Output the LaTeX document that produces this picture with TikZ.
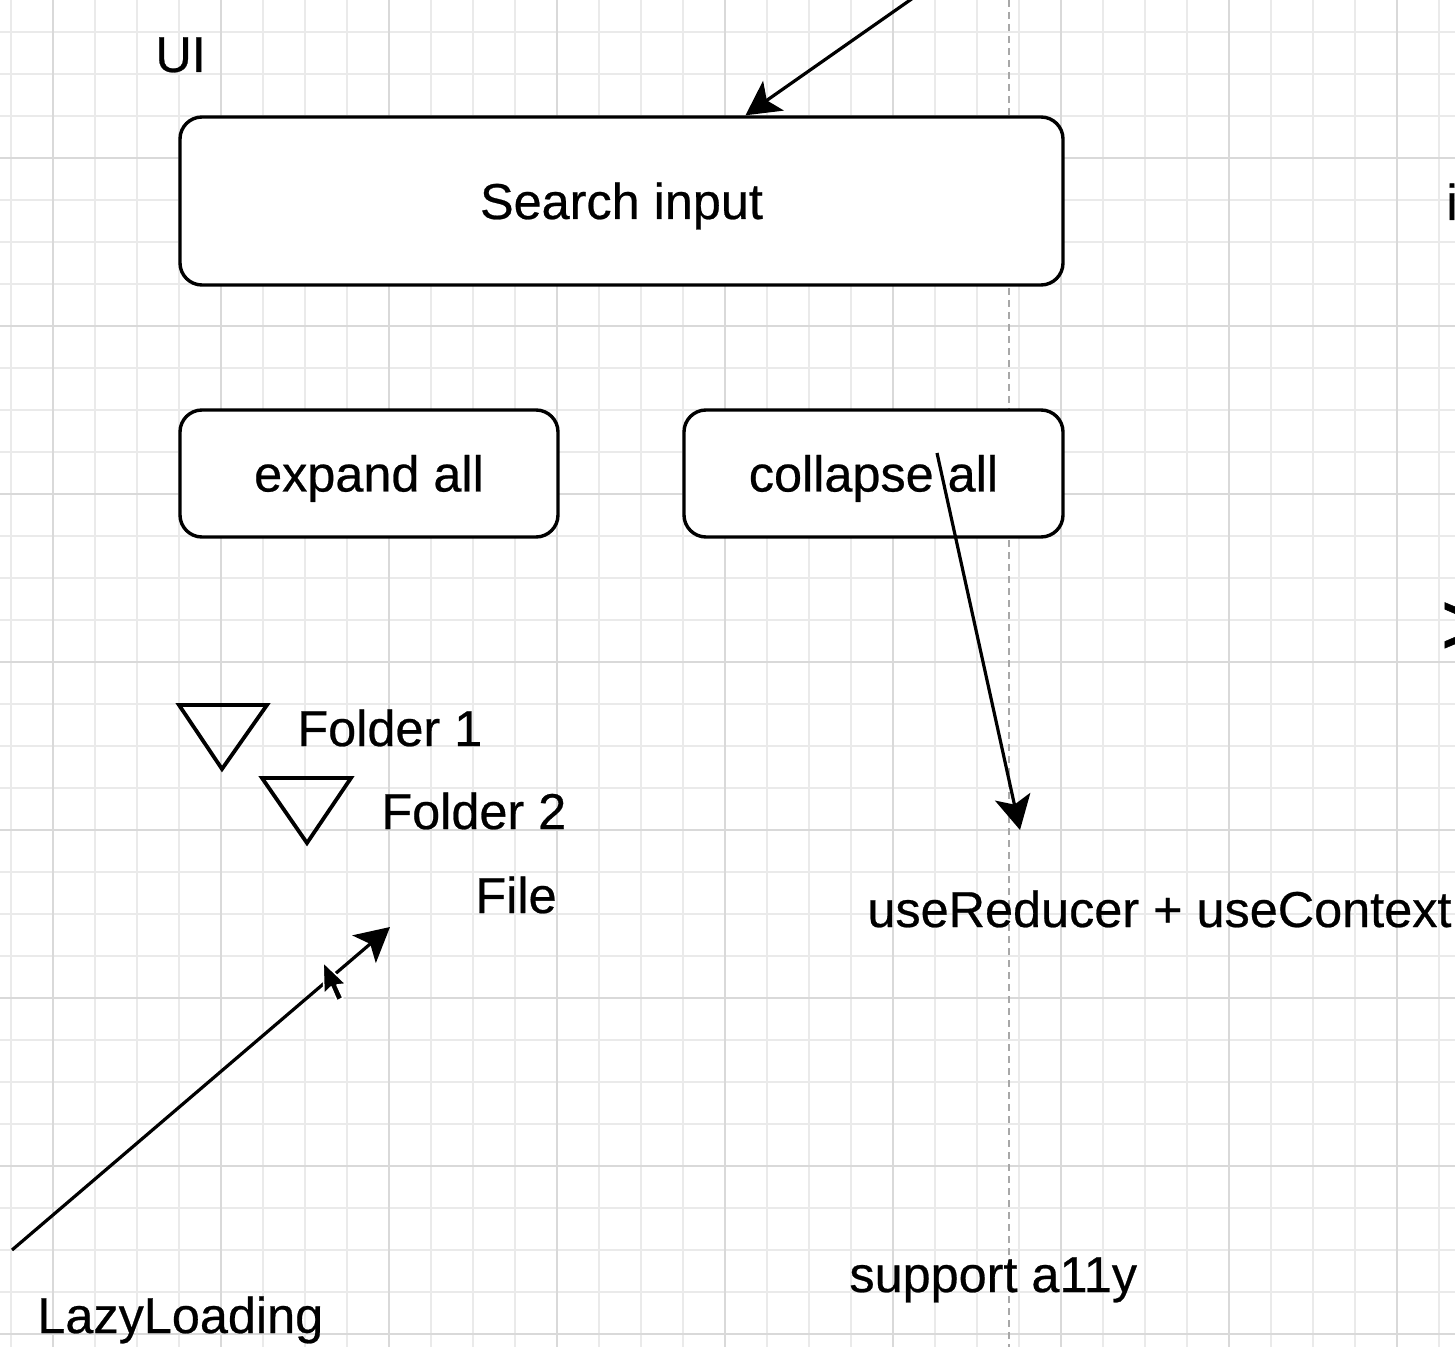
\documentclass[tikz,border=0pt]{standalone}
\usepackage{fontspec}
\setmainfont{Liberation Sans}[FakeBold=0.5]
\usetikzlibrary{arrows.meta,calc}
\definecolor{gridminor}{HTML}{EAEAEA}
\definecolor{gridmajor}{HTML}{D9D9D9}
\definecolor{guide}{HTML}{A8A8A8}
\tikzset{
  box/.style={draw=black, line width=1.7pt, fill=white, rounded corners=11pt,
    font=\fontsize{25.2}{30}\selectfont, text height=18pt, text depth=0pt, inner sep=0pt},
  lbl/.style={font=\fontsize{25.2}{30}\selectfont, inner sep=0pt, anchor=base west},
  conn/.style={draw=black, line width=1.6pt, -{Stealth[length=17pt,width=18pt,inset=4pt]}},
  tri/.style={draw=black, line width=1.9pt, line join=miter},
}
\begin{document}
\begin{tikzpicture}[x=0.5pt,y=-0.5pt]
\fill[white] (0,0) rectangle (1455,1347);
\useasboundingbox (0,0) rectangle (1455,1347);
\begin{scope}
\clip (0,0) rectangle (1455,1347);
% grid
\foreach \x in {11,53,...,1460} \draw[gridminor, line width=0.6pt] (\x,0) -- (\x,1347);
\foreach \y in {32,74,...,1350} \draw[gridminor, line width=0.6pt] (0,\y) -- (1455,\y);
\foreach \x in {53,221,...,1460} \draw[gridmajor, line width=0.6pt] (\x,0) -- (\x,1347);
\foreach \y in {158,326,...,1350} \draw[gridmajor, line width=0.6pt] (0,\y) -- (1455,\y);
% guide line
\draw[guide, line width=0.7pt, dash pattern=on 3.5pt off 2.5pt] (1009,0) -- (1009,1347);

% boxes
\node[box, minimum width=441.5pt, minimum height=84pt] (search) at (621.5,201) {Search input};
\node[box, minimum width=189pt, minimum height=63.5pt] (expand) at (369,473.5) {expand all};
\node[box, minimum width=189.5pt, minimum height=63.5pt] (collapse) at (873.5,473.5) {collapse all};

% labels
\node[lbl] (ui) at (155,72) {UI};
\node[lbl] (f1) at (297,746) {Folder 1};
\node[lbl] (f2) at (381,829) {Folder 2};
\node[lbl] (file) at (475,913) {File};
\node[lbl] (reducer) at (867,927) {useReducer + useContext};
\node[lbl] (a11y) at (849,1292) {support a11y};
\node[lbl] (lazy) at (37,1333) {LazyLoading};
\node[lbl] (cut1) at (1446,220) {i};
\node[lbl, font=\fontsize{45}{50}\selectfont] (cut2) at (1440,655) {>};

% triangles
\draw[tri] (179,705) -- (267,705) -- (222,769) -- cycle;
\draw[tri] (262,778) -- (351,778) -- (307,843) -- cycle;

% connectors
\coordinate (a1s) at (913,-2);
\coordinate (a1e) at ($(search.north west)!0.6399!(search.north east)$);
\draw[conn] (a1s) -- (a1e);
\coordinate (a2s) at (937,453);
\coordinate (a2e) at (1020,830);
\draw[conn] (a2s) -- (a2e);
\coordinate (a3s) at (12,1250);
\coordinate (a3e) at (390,927);
\draw[conn] (a3s) -- (a3e);

% mouse cursor
\filldraw[fill=black, draw=white, line width=0.8pt, line join=round]
  (323,962) -- (324,994) -- (331,987) -- (337,1001) -- (343,998) -- (337,985) -- (346,984) -- cycle;
\end{scope}
\end{tikzpicture}
\end{document}
